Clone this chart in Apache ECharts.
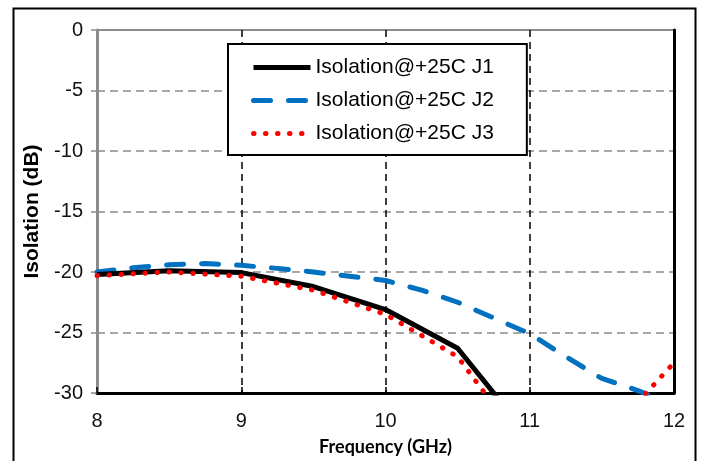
<!DOCTYPE html>
<html>
<head>
<meta charset="utf-8">
<script src="https://cdn.jsdelivr.net/npm/echarts@6/dist/echarts.min.js"></script>
<style>html,body{margin:0;padding:0;background:#fff}#c{width:703px;height:461px}</style>
</head>
<body>
<div id="c"></div>
<script>
var xTicks = [8, 9, 10, 11, 12];
var yTicks = [0, -5, -10, -15, -20, -25, -30];
var seriesNames = ['Isolation@+25C J1', 'Isolation@+25C J2', 'Isolation@+25C J3'];

var j1Freq = [8, 8.5, 9, 9.5, 10, 10.5, 11];
var j1Vals = [-20.2, -19.9, -20.05, -21.2, -23.1, -26.3, -33.7];

var j2Freq = [8, 8.25, 8.5, 8.75, 9, 9.25, 9.5, 9.75, 10, 10.25, 10.5, 10.75, 11, 11.25, 11.5, 11.75, 12];
var j2Vals = [-20.0, -19.65, -19.4, -19.3, -19.45, -19.7, -20.0, -20.35, -20.7, -21.5, -22.5, -23.8, -25.1, -27.0, -28.8, -29.8, -31.0];

var j3Freq = [8, 8.5, 9, 9.5, 10, 10.5, 11, 11.5, 12];
var j3Vals = [-20.3, -20.0, -20.35, -21.5, -23.5, -27.0, -35.0, -34.0, -27.5];

function pairs(xs, ys) { return xs.map(function (x, i) { return [x, ys[i]]; }); }

var font = 'Liberation Sans, Arial, sans-serif';
var styles = [
  { color: '#000000', width: 5, type: 'solid', cap: 'butt' },
  { color: '#0070c0', width: 5, type: [17, 18], cap: 'round' },
  { color: '#ff0000', width: 5, type: [0.5, 11.5], cap: 'round' }
];

var chart = echarts.init(document.getElementById('c'), null, { renderer: 'canvas' });
chart.setOption({
  animation: false,
  backgroundColor: '#fff',
  graphic: [{
    type: 'rect', left: 11, top: 6, z: 100,
    shape: { width: 682, height: 480 },
    style: { fill: 'none', stroke: '#000', lineWidth: 2 }
  }],
  grid: { left: 97, right: 29, top: 30, bottom: 66, show: true, borderColor: '#8c8c8c', borderWidth: 2 },
  legend: {
    orient: 'vertical', left: 228, top: 44,
    padding: [13, 33, 11, 23],
    itemWidth: 57, itemHeight: 20, itemGap: 12,
    borderColor: '#000', borderWidth: 2, backgroundColor: '#fff',
    itemStyle: { opacity: 0 },
    textStyle: { fontFamily: font, fontSize: 21, lineHeight: 20, color: '#000', padding: [0, 0, 0, 0] },
    data: seriesNames.map(function (n, i) {
      return { name: n, itemStyle: { opacity: 0 }, lineStyle: { color: styles[i].color, width: styles[i].width, type: styles[i].type, cap: styles[i].cap } };
    })
  },
  xAxis: [{
    type: 'value', min: xTicks[0], max: xTicks[xTicks.length - 1], interval: 1,
    name: 'Frequency (GHz)', nameLocation: 'middle', nameGap: 45,
    nameTextStyle: { fontFamily: 'Lato, Open Sans, sans-serif', fontWeight: 'bold', fontSize: 18, color: '#000' },
    axisLine: { onZero: false, lineStyle: { color: '#000', width: 3 } },
    axisTick: { inside: true, length: 6, lineStyle: { color: '#000', width: 1.5 } },
    axisLabel: { fontFamily: font, fontSize: 20, color: '#111', margin: 18 },
    splitLine: { show: true, lineStyle: { color: '#000', width: 1.5, type: [7, 5] } }
  }],
  yAxis: [{
    type: 'value', min: yTicks[yTicks.length - 1], max: yTicks[0], interval: 5,
    name: 'Isolation (dB)', nameLocation: 'middle', nameGap: 54,
    nameTextStyle: { fontFamily: font, fontWeight: 'bold', fontSize: 21, color: '#000' },
    axisLine: { show: true, onZero: false, lineStyle: { color: '#8c8c8c', width: 3 } },
    axisTick: { show: true, length: 6, lineStyle: { color: '#8c8c8c', width: 1.5 } },
    axisLabel: { fontFamily: font, fontSize: 20, color: '#111', margin: 14 },
    splitLine: { show: true, lineStyle: { color: '#8c8c8c', width: 1.5, type: [8, 5] } }
  }, {
    type: 'value', position: 'right', min: -30, max: 0, interval: 5,
    axisLine: { show: true, onZero: false, lineStyle: { color: '#000', width: 3 } },
    axisTick: { show: false }, axisLabel: { show: false }, splitLine: { show: false }
  }],
  series: seriesNames.map(function (n, i) {
    var xs = [j1Freq, j2Freq, j3Freq][i], ys = [j1Vals, j2Vals, j3Vals][i];
    return {
      name: n, type: 'line', symbol: 'none', z: [3, 2, 4][i],
      data: pairs(xs, ys),
      lineStyle: styles[i], itemStyle: { color: styles[i].color }
    };
  })
});
</script>
</body>
</html>
